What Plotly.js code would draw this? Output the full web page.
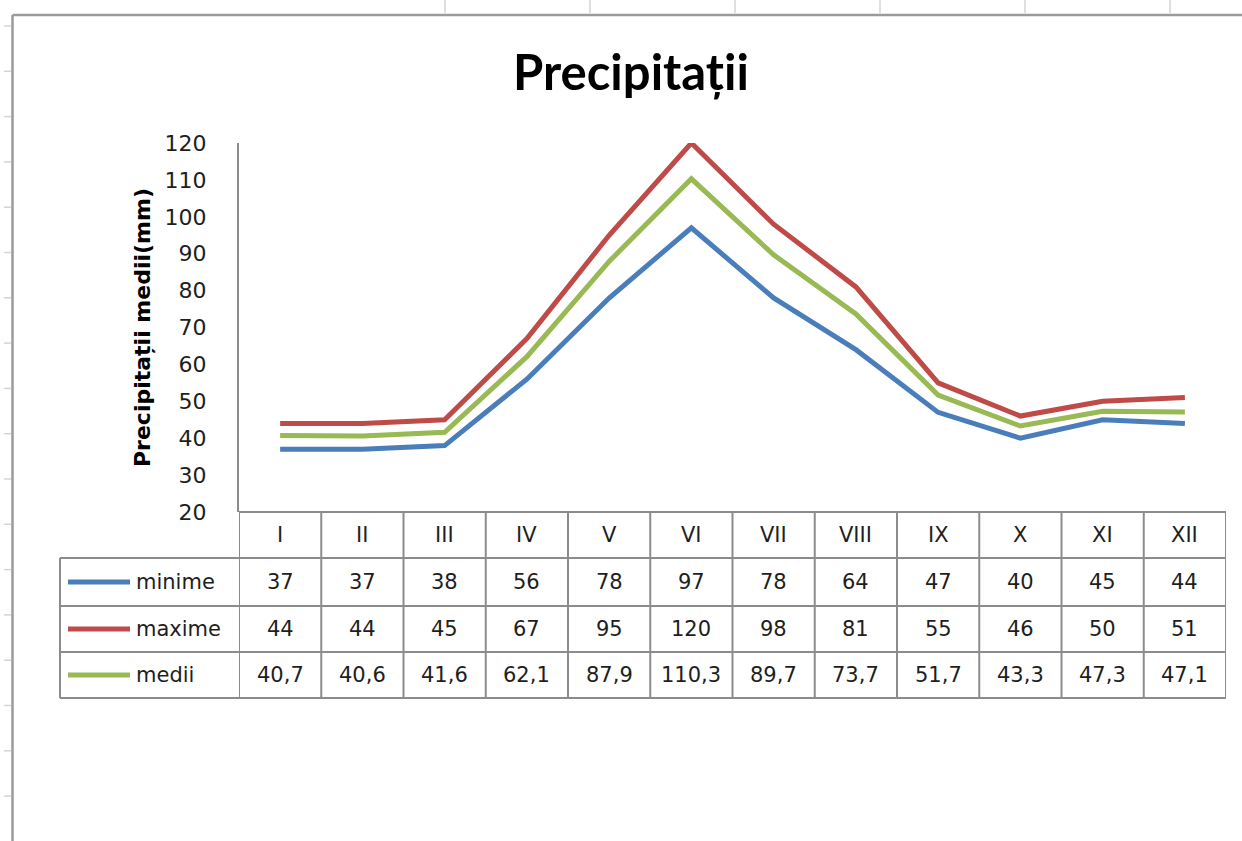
<!DOCTYPE html>
<html>
<head>
<meta charset="utf-8">
<script src="https://cdn.plot.ly/plotly-3.0.1.min.js"></script>
<style>html,body{margin:0;padding:0;background:#fff;}#chart{width:1242px;height:841px;}</style>
</head>
<body>
<div id="chart"></div>
<script>
// ---- data ----
const months = ["I","II","III","IV","V","VI","VII","VIII","IX","X","XI","XII"];
const seriesNames = ["minime","maxime","medii"];
const minime = [37,37,38,56,78,97,78,64,47,40,45,44];
const maxime = [44,44,45,67,95,120,98,81,55,46,50,51];
const medii = [40.7,40.6,41.6,62.1,87.9,110.3,89.7,73.7,51.7,43.3,47.3,47.1];
const yTicks = [20,30,40,50,60,70,80,90,100,110,120];
const chartTitle = "Precipitații";
const yTitle = "Precipitații medii(mm)";

// ---- styles ----
const colors = ["#4A7EBB","#BE4B48","#98B954"];
const seriesData = [minime, maxime, medii];
const W = 1242, H = 841;
const L = 239, R = 1226, T = 143, B = 512;
const pw = R - L, ph = B - T;
const px = x => (x - L) / pw;          // pixel -> paper x
const py = y => (B - y) / ph;          // pixel -> paper y
const gridCol = "#8c8c8c";
const txtCol = "#1e1e1e";
const rowEdges = [512, 558, 606, 652, 698];

const fmt = v => String(v).replace('.', ',');

const idx = months.map((m,i)=>i);
const traces = seriesData.map((d,k)=>({
  type:'scatter', mode:'lines', x: idx, y: d, name: seriesNames[k],
  line:{color: colors[k], width: 5}, hoverinfo:'x+y', showlegend:false
}));

const shapes = [];
const annotations = [];
const cellFont = {family:'DejaVu Sans', size:21, color:txtCol};

// spreadsheet frame
shapes.push({type:'line', xref:'paper', yref:'paper', x0:px(12.5), x1:px(1242), y0:py(15), y1:py(15), line:{color:'#9a9a9a', width:2.5}, layer:'below'});
shapes.push({type:'line', xref:'paper', yref:'paper', x0:px(12.5), x1:px(12.5), y0:py(15), y1:py(841), line:{color:'#9a9a9a', width:2.5}, layer:'below'});
[445,590,735,880,1025,1170].forEach(x=>shapes.push({type:'line', xref:'paper', yref:'paper', x0:px(x), x1:px(x), y0:py(0), y1:py(13), line:{color:'#d4d4d4', width:1.5}, layer:'below'}));
for (let k=0;k<18;k++){ const y = 26 + 45.3*k; shapes.push({type:'line', xref:'paper', yref:'paper', x0:px(4), x1:px(11), y0:py(y), y1:py(y), line:{color:'#d4d4d4', width:1.5}, layer:'below'}); }

// table horizontal lines
shapes.push({type:'line', xref:'paper', yref:'paper', x0:0, x1:1, y0:py(rowEdges[0]), y1:py(rowEdges[0]), line:{color:gridCol, width:2}});
for (let r=1;r<rowEdges.length;r++){
  shapes.push({type:'line', xref:'paper', yref:'paper', x0:px(60), x1:1, y0:py(rowEdges[r]), y1:py(rowEdges[r]), line:{color:gridCol, width:2}});
}
// table vertical lines (category boundaries)
for (let i=0;i<=months.length;i++){
  shapes.push({type:'line', xref:'x', yref:'paper', x0:i-0.5, x1:i-0.5, y0:py(rowEdges[0]), y1:py(rowEdges[4]), line:{color:gridCol, width:2}});
}
shapes.push({type:'line', xref:'paper', yref:'paper', x0:px(60), x1:px(60), y0:py(rowEdges[1]), y1:py(rowEdges[4]), line:{color:gridCol, width:2}});

// header row (month labels)
const rowMid = r => py((rowEdges[r] + rowEdges[r+1]) / 2);
months.forEach((m,i)=>annotations.push({xref:'x', yref:'paper', x:i, y:rowMid(0), xanchor:'center', yanchor:'middle', text:m, showarrow:false, font:cellFont}));
// data rows
seriesData.forEach((d,k)=>{
  const yr = rowMid(k+1);
  shapes.push({type:'line', xref:'paper', yref:'paper', x0:px(68), x1:px(130), y0:yr, y1:yr, line:{color:colors[k], width:5}});
  annotations.push({xref:'paper', yref:'paper', x:px(134), y:yr, xanchor:'left', yanchor:'middle', text:seriesNames[k], showarrow:false, font:cellFont});
  d.forEach((v,i)=>annotations.push({xref:'x', yref:'paper', x:i, y:yr, xanchor:'center', yanchor:'middle', text:fmt(v), showarrow:false, font:cellFont}));
});

const layout = {
  width:W, height:H,
  margin:{l:L, r:W-R, t:T, b:H-B, pad:0},
  paper_bgcolor:'#ffffff', plot_bgcolor:'#ffffff',
  title:{text:chartTitle, font:{family:'Lato', size:49, color:'#000', weight:'bold'}, xref:'container', x:631/W, xanchor:'center', yref:'container', y:1-73/H, yanchor:'middle'},
  xaxis:{type:'linear', range:[-0.5, months.length-0.5], showticklabels:false, showgrid:false, zeroline:false, showline:false, ticks:'', fixedrange:true},
  yaxis:{range:[20,120], tickvals:yTicks, showgrid:false, zeroline:false, showline:true, linecolor:gridCol, linewidth:2, ticks:'', ticklabelstandoff:26,
    tickfont:{family:'DejaVu Sans', size:22, color:txtCol},
    title:{text:yTitle, font:{family:'DejaVu Sans', size:22, color:'#000', weight:'bold'}, standoff:8}, automargin:false},
  shapes:shapes, annotations:annotations, showlegend:false
};

Plotly.newPlot('chart', traces, layout, {displayModeBar:false, staticPlot:true});
</script>
</body>
</html>
